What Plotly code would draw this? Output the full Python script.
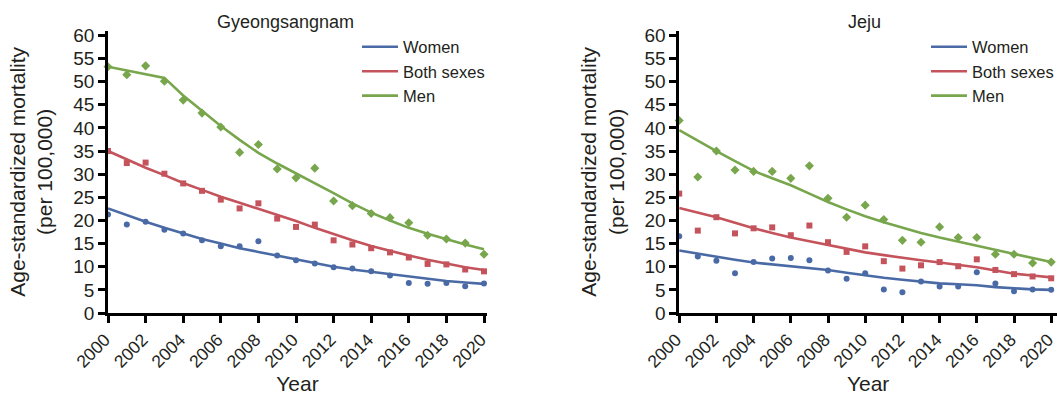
import plotly.graph_objects as go

# Calendar years on the x axis
years = list(range(2000, 2021))
year_ticks = list(range(2000, 2021, 2))
rate_ticks = list(range(0, 61, 5))

# Gyeongsangnam: observed age-standardized rates
gn_women_obs = [21.3, 19.1, 19.7, 18.0, 17.2, 15.7, 14.4, 14.4, 15.5, 12.4, 11.4,
                10.7, 9.9, 9.6, 9.0, 8.1, 6.5, 6.3, 6.5, 5.8, 6.4]
gn_both_obs = [35.0, 32.4, 32.5, 30.1, 28.0, 26.4, 24.5, 22.6, 23.7, 20.4, 18.6,
               19.1, 15.7, 14.8, 14.0, 13.1, 12.0, 10.6, 10.5, 9.4, 9.0]
gn_men_obs = [53.2, 51.5, 53.4, 50.1, 46.0, 43.2, 40.2, 34.7, 36.4, 31.1, 29.2,
              31.3, 24.2, 23.2, 21.5, 20.6, 19.5, 16.8, 16.0, 15.1, 12.7]

# Gyeongsangnam: joinpoint-fitted trends
gn_women_fit = [22.6, 21.1, 19.7, 18.4, 17.2, 16.0, 15.0, 14.0, 13.2, 12.4, 11.7,
                10.8, 10.0, 9.4, 8.9, 8.3, 7.8, 7.3, 6.9, 6.6, 6.3]
gn_both_fit = [35.0, 33.2, 31.4, 29.8, 28.1, 26.6, 25.1, 23.8, 22.5, 21.2, 19.9,
               18.4, 17.0, 15.7, 14.5, 13.4, 12.4, 11.5, 10.7, 9.9, 9.3]
gn_men_fit = [53.2, 52.4, 51.6, 50.8, 47.0, 43.6, 40.4, 37.4, 34.6, 32.3, 30.2,
              28.0, 25.9, 23.7, 21.7, 20.0, 18.4, 17.1, 15.9, 14.8, 13.8]

# Jeju: observed age-standardized rates
jj_women_obs = [16.6, 12.2, 11.3, 8.6, 11.0, 11.8, 11.9, 11.4, 9.2, 7.4, 8.6,
                5.1, 4.5, 6.8, 5.7, 5.7, 8.8, 6.4, 4.7, 5.1, 5.0]
jj_both_obs = [25.8, 17.8, 20.7, 17.2, 18.3, 18.5, 16.8, 18.9, 15.3, 13.2, 14.4,
               11.2, 9.6, 10.3, 11.0, 10.1, 11.6, 9.3, 8.4, 7.9, 7.5]
jj_men_obs = [41.6, 29.4, 35.0, 30.9, 30.6, 30.6, 29.1, 31.8, 24.8, 20.7, 23.3,
              20.2, 15.7, 15.3, 18.6, 16.3, 16.3, 12.7, 12.7, 10.8, 11.0]

# Jeju: joinpoint-fitted trends
jj_women_fit = [13.5, 12.8, 12.1, 11.5, 10.9, 10.5, 10.1, 9.7, 9.3, 8.7, 8.1,
                7.6, 7.2, 6.8, 6.4, 6.2, 6.0, 5.6, 5.3, 5.1, 5.0]
jj_both_fit = [22.7, 21.7, 20.7, 19.5, 18.3, 17.3, 16.3, 15.5, 14.7, 13.8, 13.1,
               12.5, 11.9, 11.4, 10.9, 10.4, 9.9, 9.2, 8.5, 8.1, 7.7]
jj_men_fit = [39.5, 37.2, 35.0, 32.8, 30.7, 29.1, 27.6, 25.8, 24.0, 22.4, 20.9,
              19.6, 18.4, 17.3, 16.3, 15.4, 14.6, 13.6, 12.7, 11.8, 11.0]

series_names = ["Women", "Both sexes", "Men"]
colors = ["#4A6AA6", "#C4535C", "#78A64C"]
symbols = ["circle", "square", "diamond"]
marker_sizes = [6, 6, 7]
panel_titles = ["Gyeongsangnam", "Jeju"]

panels = [
    ([gn_women_obs, gn_both_obs, gn_men_obs], [gn_women_fit, gn_both_fit, gn_men_fit]),
    ([jj_women_obs, jj_both_obs, jj_men_obs], [jj_women_fit, jj_both_fit, jj_men_fit]),
]

FONT = "Liberation Sans, Arial, sans-serif"
INK = "#231F20"
W, H = 1057, 395

fig = go.Figure()
for p, (obs_sets, fit_sets) in enumerate(panels):
    xa = "x" if p == 0 else "x2"
    ya = "y" if p == 0 else "y2"
    lg = "legend" if p == 0 else "legend2"
    for color, sym, size, obs in zip(colors, symbols, marker_sizes, obs_sets):
        fig.add_trace(go.Scatter(
            x=years, y=obs, mode="markers", xaxis=xa, yaxis=ya,
            marker=dict(color=color, symbol=sym, size=size),
            showlegend=False, cliponaxis=False, legend=lg,
        ))
    for name, color, fit in zip(series_names, colors, fit_sets):
        fig.add_trace(go.Scatter(
            x=years, y=fit, mode="lines", xaxis=xa, yaxis=ya, name=name,
            line=dict(color=color, width=2.6), cliponaxis=False, legend=lg,
        ))

# Plot-area geometry in pixels
left_x0, left_x1 = 108, 487
right_x0, right_x1 = 679.2, 1057
y_bottom, y_top = 313, 30.7

def px_x(v):
    return v / W

def px_y(v):
    return (H - v) / H

axis_common = dict(
    showline=True, linecolor="black", linewidth=2.6,
    ticks="outside", ticklen=7, tickwidth=2.6, tickcolor="black",
    showgrid=False, zeroline=False, automargin=False,
    ticklabeloverflow="allow",
    tickfont=dict(family=FONT, size=19, color=INK),
)

xaxis_common = dict(axis_common, tickvals=year_ticks, tickangle=-45,
                    ticklabelshift=-3,
                    tickfont=dict(family=FONT, size=17.5, color=INK),
                    title=dict(text="Year", font=dict(family=FONT, size=21, color=INK),
                               standoff=6))
yaxis_common = dict(axis_common, range=[0, 61], tickvals=rate_ticks,
                    domain=[px_y(y_bottom), px_y(y_top)],
                    title=dict(text="Age-standardized mortality<br>(per 100,000)",
                               font=dict(family=FONT, size=21, color=INK),
                               standoff=15))

fig.update_layout(
    width=W, height=H,
    margin=dict(l=0, r=0, t=0, b=0, autoexpand=False),
    paper_bgcolor="white", plot_bgcolor="white",
    font=dict(family=FONT, color=INK),
    xaxis=dict(xaxis_common, domain=[px_x(left_x0), px_x(left_x1)],
               range=[2000, 2000 + (left_x1 - left_x0) / 18.8], anchor="y"),
    yaxis=dict(yaxis_common, anchor="x"),
    xaxis2=dict(xaxis_common, domain=[px_x(right_x0), px_x(right_x1)],
                range=[2000, 2000 + (right_x1 - right_x0) / 18.6], anchor="y2"),
    yaxis2=dict(yaxis_common, anchor="x2"),
    legend=dict(x=px_x(357), y=px_y(29.5), xanchor="left", yanchor="top",
                font=dict(family=FONT, size=16.5, color=INK),
                bgcolor="rgba(0,0,0,0)", tracegroupgap=0, itemwidth=36),
    legend2=dict(x=px_x(926), y=px_y(29.5), xanchor="left", yanchor="top",
                 font=dict(family=FONT, size=16.5, color=INK),
                 bgcolor="rgba(0,0,0,0)", tracegroupgap=0, itemwidth=36),
    showlegend=True,
)

title_centers = [285, 865]
for t, cx in zip(panel_titles, title_centers):
    fig.add_annotation(text=t, x=px_x(cx), y=px_y(22), xref="paper", yref="paper",
                       xanchor="center", yanchor="middle", showarrow=False,
                       font=dict(family=FONT, size=18, color=INK))

fig.write_html("out.html")
